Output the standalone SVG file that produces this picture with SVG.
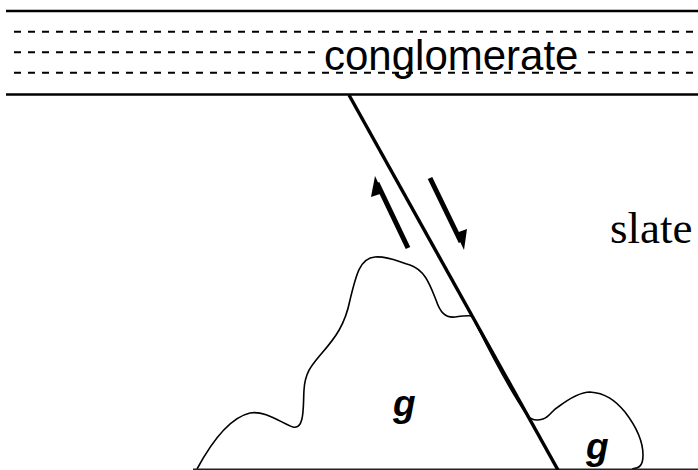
<svg xmlns="http://www.w3.org/2000/svg" width="698" height="470" viewBox="0 0 698 470">
  <style>
    .bed { stroke: #000; stroke-width: 2.4; fill: none; }
    .dash { stroke: #000; stroke-width: 2; stroke-dasharray: 7 7; fill: none; }
    .fault { stroke: #000; stroke-width: 3.4; fill: none; stroke-linecap: butt; }
    .shaft { stroke: #000; stroke-width: 5; fill: none; }
    .contact { stroke: #000; stroke-width: 1.6; fill: none; stroke-linejoin: round; }
    .sans { font-family: "Liberation Sans", Arial, sans-serif; }
    .serif { font-family: "Liberation Serif", "Times New Roman", serif; }
  </style>
  <rect width="698" height="470" fill="#fff"/>

  <!-- conglomerate bed -->
  <g id="conglomerate">
    <line class="bed" x1="6" y1="11" x2="698" y2="11"/>
    <line class="dash" x1="14" y1="31.7" x2="698" y2="31.7"/>
    <line class="dash" x1="14" y1="52.3" x2="698" y2="52.3"/>
    <line class="dash" x1="14" y1="72.7" x2="698" y2="72.7"/>
    <line class="bed" x1="6" y1="94.5" x2="698" y2="94.5"/>
    <rect x="322" y="38" width="259" height="32" fill="#fff"/>
    <text class="sans" x="324" y="70" font-size="42">conglomerate</text>
  </g>

  <!-- granite bodies -->
  <g id="granite">
    <path class="contact" d="M197,469 C210,445 228,418 250,413 C265,410 283,424 293,427 C305,430 303,405 304,390 C305,372 312,365 322,353 C335,338 345,325 350,300 C356,275 360,258 375,257 C390,256 398,262 410,265 C425,270 430,285 436,300 C440,312 445,318 455,317 C462,316 468,315 472,316 L478,328 C490,352 510,390 527,415 C531,420 537,421 543,419 C550,417 552,410 558,407 C570,398 580,392 590,392 C605,393 615,400 625,412 C635,425 643,440 643,455 C643,465 640,468 632,469"/>
    <line x1="193" y1="469.3" x2="698" y2="469.3" stroke="#222" stroke-width="1.6"/>
    <text class="sans" x="393" y="416" font-size="37" font-weight="bold" font-style="italic">g</text>
    <text class="sans" x="586" y="459" font-size="37" font-weight="bold" font-style="italic">g</text>
  </g>

  <!-- slate country rock -->
  <g id="slate">
    <text class="serif" x="610" y="243" font-size="45">slate</text>
  </g>

  <!-- fault trace and sense-of-slip arrows -->
  <g id="connectors">
    <line class="fault" x1="349" y1="95" x2="558" y2="470"/>
    <line class="shaft" x1="408" y1="248" x2="377" y2="183"/>
    <polygon points="375,176 371,197 383,193"/>
    <line class="shaft" x1="430" y1="178" x2="461" y2="242"/>
    <polygon points="464,250 467,229 456,233"/>
  </g>
</svg>
